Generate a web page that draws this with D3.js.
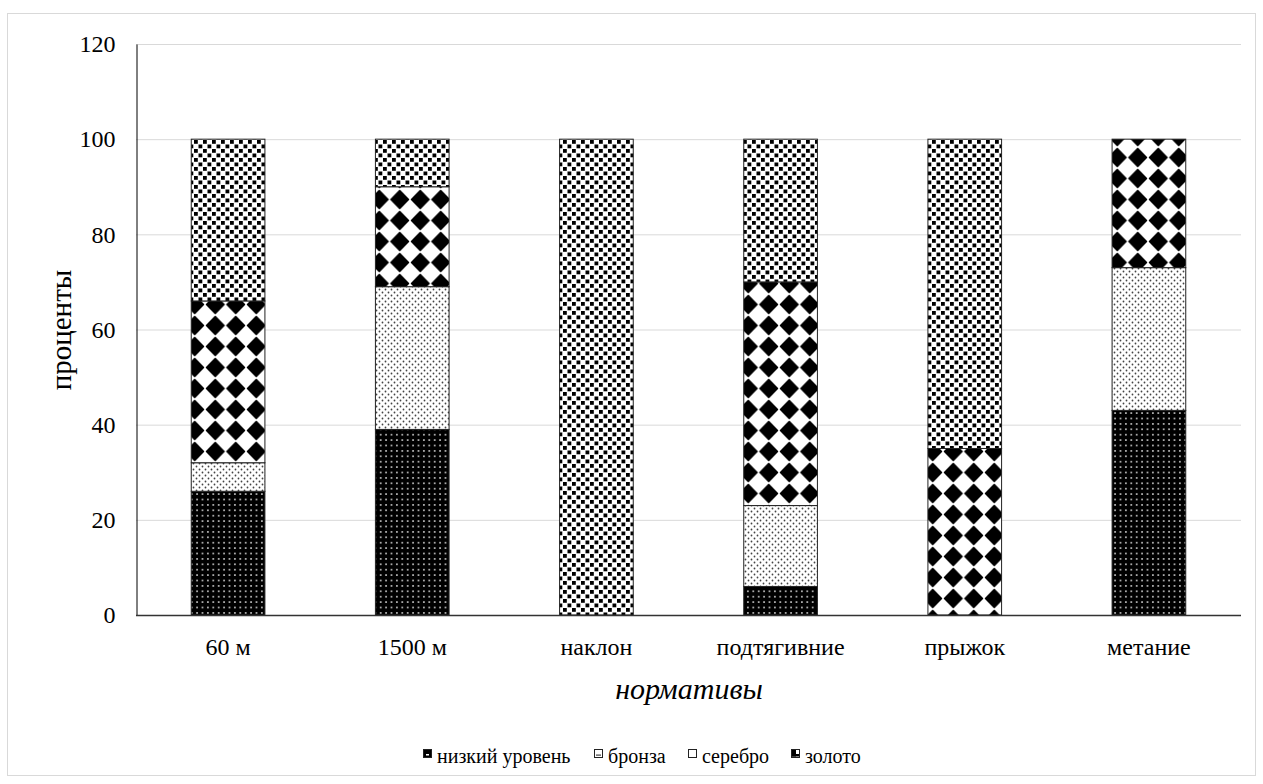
<!DOCTYPE html>
<html><head><meta charset="utf-8">
<script src="https://cdn.jsdelivr.net/npm/d3@7"></script>
<style>body{margin:0;background:#fff}svg{display:block}svg text{font-family:"Liberation Serif","Times New Roman",serif !important;fill:#000}</style>
</head><body>
<script>
const categories = ["60 м","1500 м","наклон","подтягивние","прыжок","метание"];
const seriesNames = ["низкий уровень","бронза","серебро","золото"];
const nizkiy  = [26, 39, 0, 6, 0, 43];
const bronza  = [6, 30, 0, 17, 0, 30];
const serebro = [34, 21, 0, 47, 35, 27];
const zoloto  = [34, 10, 100, 30, 65, 0];
const yTicks = [0,20,40,60,80,100,120];

(function(){
const W=1263,H=784;
const svg=d3.select("body").append("svg").attr("width",W).attr("height",H);
const defs=svg.append("defs");

function pat(id,w,h,draw){const p=defs.append("pattern").attr("id",id).attr("patternUnits","userSpaceOnUse").attr("width",w).attr("height",h);draw(p);return p;}
pat("pNiz",5.4,5.4,p=>{p.append("rect").attr("width",5.4).attr("height",5.4).attr("fill","#000");p.append("circle").attr("cx",2.7).attr("cy",2.7).attr("r",1).attr("fill","#ccc");});
pat("pBro",6,6,p=>{p.append("rect").attr("width",6).attr("height",6).attr("fill","#fff");p.append("circle").attr("cx",1.5).attr("cy",1.5).attr("r",0.9).attr("fill","#444");p.append("circle").attr("cx",4.5).attr("cy",4.5).attr("r",0.9).attr("fill","#444");});
pat("pSer",20.5,21,p=>{p.append("rect").attr("width",20.5).attr("height",21).attr("fill","#fff");p.append("path").attr("d","M10.25,1.5 L19,10.5 L10.25,19.5 L1.5,10.5 Z").attr("fill","#000").attr("stroke","#000").attr("stroke-width",1.5).attr("stroke-linejoin","round");});
pat("pZol",9,9,p=>{p.append("rect").attr("width",9).attr("height",9).attr("fill","#fff");p.append("rect").attr("x",0.5).attr("y",0.5).attr("width",3.8).attr("height",3.8).attr("fill","#000");p.append("rect").attr("x",5).attr("y",5).attr("width",3.8).attr("height",3.8).attr("fill","#000");});
const fills=["url(#pNiz)","url(#pBro)","url(#pSer)","url(#pZol)"];

svg.append("rect").attr("x",7.5).attr("y",13.5).attr("width",1248).attr("height",762).attr("fill","none").attr("stroke","#d9d9d9");

const pL=136,pR=1241,pT=44,pB=615;
const x=d3.scaleBand().domain(categories).range([pL,pR]).paddingInner(0.6).paddingOuter(0.3);
const y=d3.scaleLinear().domain([0,120]).range([pB,pT]);

svg.append("g").selectAll("line").data(yTicks.filter(d=>d>0)).join("line")
 .attr("x1",pL).attr("x2",pR).attr("y1",d=>y(d)+0.5).attr("y2",d=>y(d)+0.5).attr("stroke","#d9d9d9");

const rows=categories.map((c,i)=>({cat:c,"низкий уровень":nizkiy[i],"бронза":bronza[i],"серебро":serebro[i],"золото":zoloto[i]}));
const stack=d3.stack().keys(seriesNames)(rows);
svg.append("g").selectAll("g").data(stack).join("g").attr("fill",(d,i)=>fills[i])
 .selectAll("rect").data(d=>d.filter(e=>e[1]-e[0]>0)).join("rect")
 .attr("x",d=>x(d.data.cat)).attr("width",x.bandwidth())
 .attr("y",d=>y(d[1])).attr("height",d=>y(d[0])-y(d[1]))
 .attr("stroke","#222").attr("stroke-width",1);

const ya=svg.append("g").attr("transform",`translate(${pL+0.5},0)`).call(d3.axisLeft(y).tickValues(yTicks).tickSize(0).tickPadding(21));
ya.select(".domain").attr("stroke","#000");
ya.selectAll("text").attr("font-size",24);
const xa=svg.append("g").attr("transform",`translate(0,${pB+0.5})`).call(d3.axisBottom(x).tickSize(0).tickPadding(22));
xa.select(".domain").attr("stroke","#333").attr("stroke-width",1.5).attr("d",`M${pL},0H${pR}`);
xa.selectAll("text").attr("font-size",24);

svg.append("text").attr("transform","translate(71,330) rotate(-90)").attr("text-anchor","middle")
 .attr("font-size",29).text("проценты");
svg.append("text").attr("x",689).attr("y",699).attr("text-anchor","middle").attr("font-style","italic")
 .attr("font-size",30).text("нормативы");

const legX=[423,594,688,791];
const lg=svg.append("g").selectAll("g").data(seriesNames).join("g").attr("transform",(d,i)=>`translate(${legX[i]},749)`);
lg.append("rect").attr("x",0.5).attr("y",0.5).attr("width",8).attr("height",8).attr("fill",(d,i)=>["#000","#fff","#fff","#fff"][i]).attr("stroke","#222").attr("stroke-width",1);
lg.filter((d,i)=>i===0).append("rect").attr("x",3).attr("y",5).attr("width",3).attr("height",1.5).attr("fill","#fff");
lg.filter((d,i)=>i===1).append("rect").attr("x",2).attr("y",5.5).attr("width",5).attr("height",1.2).attr("fill","#444");
lg.filter((d,i)=>i===3).append("rect").attr("x",1).attr("y",1).attr("width",4).attr("height",6.5).attr("fill","#000");
lg.filter((d,i)=>i===3).append("rect").attr("x",1).attr("y",5).attr("width",7).attr("height",2.5).attr("fill","#000");
lg.append("text").attr("x",14).attr("y",13.5).attr("font-size",20).text(d=>d);
})();
</script>
</body></html>
